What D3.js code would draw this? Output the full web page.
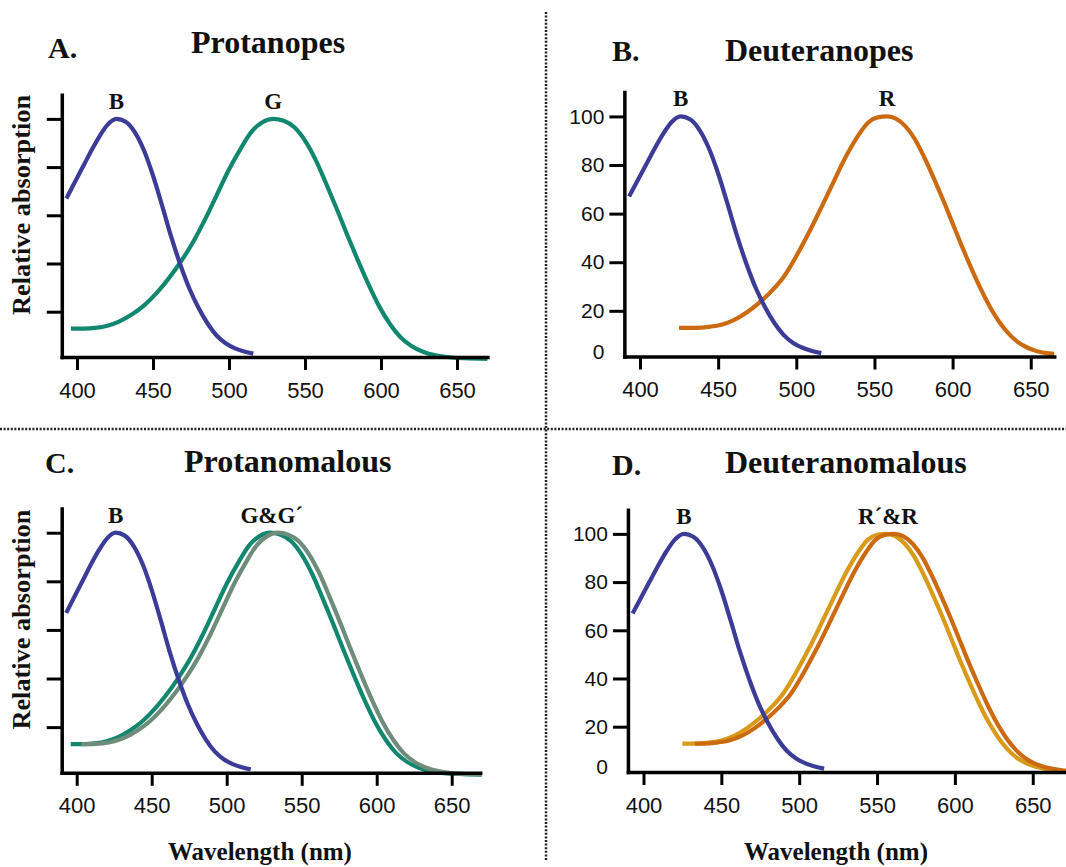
<!DOCTYPE html>
<html><head><meta charset="utf-8">
<script src="https://cdn.jsdelivr.net/npm/d3@7"></script>
<style>body{margin:0;background:#fff}svg{display:block}</style>
</head><body><svg id="chart" width="1066" height="867"></svg>
<script>
// ---------- data ----------
const xTicks = [400, 450, 500, 550, 600, 650];
const yTicksLabeled = [0, 20, 40, 60, 80, 100];
const yTicksPlain = [20, 40, 60, 80, 100];

const blueWl  = [393,400,405,410,415,420,426,432,438,444,450,456,462,468,474,480,486,492,498,504,510,516];
const blueAbs = [67,75.5,81.5,87.5,93,97.5,100,98.8,94.5,87,76.5,64,51,39.5,29.5,21.5,15,10,6.8,4.8,3.5,2.6];

const greenWl  = [396,405,412,420,428,436,444,452,460,468,476,484,492,500,508,515,522,529,536,543,550,557,564,571,578,585,592,599,606,613,620,628,636,645,655,670];
const greenAbs = [13,13,13.3,14.2,16,18.8,22.5,27.5,33.5,40.5,48.5,58,68.5,79,88,94.8,98.6,100,99.2,96.5,91,83,73,62.5,51.5,41,31,22,14.8,9.3,5.8,3.3,1.9,1.1,0.7,0.4];

const greenPrimeWl  = [403,410,417,425,433,441,449,457,465,473,481,489,497,505,513,520,527,534,541,548,555,562,569,576,583,590,597,604,611,618,625,633,641,650,660,670];
const greenPrimeAbs = [13,13,13.3,14.2,16,18.8,22.5,27.5,33.5,40.5,48.5,58,68.5,79,88,94.8,98.6,100,99.2,96.5,91,83,73,62.5,51.5,41,31,22,14.8,9.3,5.8,3.3,1.9,1.1,0.7,0.5];

const redWl  = [425,435,445,452,460,468,476,484,492,500,508,516,524,532,540,546,552,558,564,570,576,582,588,594,600,606,612,618,624,630,636,642,648,654,660,665];
const redAbs = [13,13,13.5,14.3,16.2,19.2,23.2,28,34,42.5,52.1,62.5,73.3,83.8,92.5,97.5,99.6,100,99,95.8,90.5,83,74.5,65.5,56,46.5,37.5,29,21.5,15.3,10.5,7,4.8,3.4,2.6,2.3];

const redPrimeWl  = [425,433,443,450,458,466,474,482,490,498,506,514,522,530,538,544,550,556,562,568,574,580,586,592,598,604,610,616,622,628,634,640,646,652,658,664,672];
const redPrimeAbs = [13,13,13.5,14.3,16.2,19.2,23.2,28,34,42.5,52.1,62.5,73.3,83.8,92.5,97.5,99.6,100,99,95.8,90.5,83,74.5,65.5,56,46.5,37.5,29,21.5,15.3,10.5,7,4.8,3.4,2.5,1.9,1.4];

const redDWl  = [433,438,448,455,463,471,479,487,495,503,511,519,527,535,543,549,555,561,567,573,579,585,591,597,603,609,615,621,627,633,639,645,651,657,663,669,676];
const redDAbs = [13,13,13.5,14.3,16.2,19.2,23.2,28,34,42.5,52.1,62.5,73.3,83.8,92.5,97.5,99.6,100,99,95.8,90.5,83,74.5,65.5,56,46.5,37.5,29,21.5,15.3,10.5,7,4.8,3.4,2.5,1.9,1.5];

// ---------- styles ----------
const COL = {blue:'#3b3b98', green:'#12876f', greenP:'#6f8b79', red:'#cc6a12', redP:'#d89a18'};
const SERIF = "'Liberation Serif','Times New Roman',serif";
const SANS = "'Liberation Sans',Arial,sans-serif";

const zip = (w, a) => w.map((d, i) => ({wl: d, v: a[i]}));

const panels = [
  {letter:'A.', title:'Protanopes', lx:48, ly:58, tx:191, ty:53,
   px400:77, k:1.52, xMax:670, axisY:357, u:2.41, yLabels:false, ylab:true, xlab:false,
   curves:[{d:zip(greenWl,greenAbs), c:COL.green},{d:zip(blueWl,blueAbs), c:COL.blue}],
   labels:[{t:'B', wl:426},{t:'G', wl:529}]},
  {letter:'B.', title:'Deuteranopes', lx:612, ly:61, tx:725, ty:61,
   px400:640, k:1.563, xMax:665, axisY:356.5, u:2.43, yLabels:true, ylab:false, xlab:false,
   curves:[{d:zip(redWl,redAbs), c:COL.red},{d:zip(blueWl,blueAbs), c:COL.blue}],
   labels:[{t:'B', wl:426},{t:'R', wl:558}]},
  {letter:'C.', title:'Protanomalous', lx:45, ly:473, tx:184, ty:472,
   px400:76.7, k:1.5, xMax:669, axisY:772.8, u:2.43, yLabels:false, ylab:true, xlab:true,
   curves:[{d:zip(greenWl,greenAbs), c:COL.green},{d:zip(greenPrimeWl,greenPrimeAbs), c:COL.greenP},{d:zip(blueWl,blueAbs), c:COL.blue}],
   labels:[{t:'B', wl:426},{t:'G&G\u00B4', wl:530}]},
  {letter:'D.', title:'Deuteranomalous', lx:612, ly:475, tx:725, ty:473,
   px400:643.5, k:1.557, xMax:676, axisY:772, u:2.41, yLabels:true, ylab:false, xlab:true,
   curves:[{d:zip(redPrimeWl,redPrimeAbs), c:COL.redP},{d:zip(redDWl,redDAbs), c:COL.red},{d:zip(blueWl,blueAbs), c:COL.blue}],
   labels:[{t:'B', wl:426},{t:'R\u00B4&R', wl:557}]}
];

const svg = d3.select('#chart');
svg.append('rect').attr('width',1066).attr('height',867).attr('fill','#fff');

// separators
svg.append('line').attr('x1',0).attr('x2',1066).attr('y1',429).attr('y2',429)
  .attr('stroke','#222').attr('stroke-width',2.5).attr('stroke-dasharray','2,1.6');
svg.append('line').attr('x1',546).attr('x2',546).attr('y1',12).attr('y2',860)
  .attr('stroke','#222').attr('stroke-width',2.5).attr('stroke-dasharray','2,1.6');

const yFloor = 1.2, yTop = 110;

panels.forEach(p => {
  const x = d3.scaleLinear().domain([390, p.xMax])
    .range([p.px400 - 10*p.k, p.px400 + (p.xMax-400)*p.k]);
  const y = d3.scaleLinear().domain([yFloor, yTop])
    .range([p.axisY, p.axisY - (yTop-yFloor)*p.u]);
  const g = svg.append('g');

  // curves
  const line = d3.line().x(d => x(d.wl)).y(d => y(d.v)).curve(d3.curveMonotoneX);
  p.curves.forEach(c => {
    g.append('path').datum(c.d).attr('d', line).attr('fill','none')
      .attr('stroke', c.c).attr('stroke-width', 4.2).attr('stroke-linecap','butt')
      .attr('stroke-linejoin','round');
  });

  // x axis
  const xa = g.append('g').attr('transform', `translate(0,${p.axisY})`)
    .call(d3.axisBottom(x).tickValues(xTicks).tickSize(13).tickPadding(12).tickSizeOuter(0));
  // y axis
  const yAxis = d3.axisLeft(y).tickSize(15).tickPadding(5).tickSizeOuter(0)
    .tickValues(p.yLabels ? yTicksLabeled : yTicksPlain);
  if (!p.yLabels) yAxis.tickFormat(() => '');
  const ya = g.append('g').attr('transform', `translate(${x(390)},0)`).call(yAxis);

  [xa, ya].forEach(a => {
    a.select('.domain').attr('stroke','#000').attr('stroke-width',3.5).attr('stroke-linecap','square');
    a.selectAll('.tick line').attr('stroke','#000').attr('stroke-width',3);
    a.selectAll('.tick text').attr('fill','#111').style('font-family', SANS);
  });
  xa.selectAll('.tick text').style('font-size','22px');
  ya.selectAll('.tick text').style('font-size','21px');
  ya.selectAll('.tick').filter(d => d === 0).each(function(){
    d3.select(this).select('line').remove();
    d3.select(this).select('text').attr('transform','translate(0,-8)');
  });

  // curve labels
  p.labels.forEach(l => {
    g.append('text').attr('x', x(l.wl)).attr('y', y(100) - 10)
      .attr('text-anchor','middle').style('font-family', SERIF).style('font-weight','bold')
      .style('font-size','23px').attr('fill','#111').text(l.t);
  });

  // panel letter + title
  g.append('text').attr('x', p.lx).attr('y', p.ly).style('font-family', SERIF)
    .style('font-weight','bold').style('font-size','30px').attr('fill','#111').text(p.letter);
  g.append('text').attr('x', p.tx).attr('y', p.ty).style('font-family', SERIF)
    .style('font-weight','bold').style('font-size','32px').attr('fill','#111').text(p.title);

  if (p.ylab) {
    const cy = (y(yTop) + y(yFloor)) / 2 - 21;
    g.append('text').attr('transform', `translate(30,${cy}) rotate(-90)`)
      .attr('text-anchor','middle').style('font-family', SERIF).style('font-weight','bold')
      .style('font-size','25px').attr('fill','#111')
      .attr('textLength', 220).attr('lengthAdjust','spacingAndGlyphs')
      .text('Relative absorption');
  }
  if (p.xlab) {
    const cx = (x(390) + Math.min(x(p.xMax), 1066)) / 2 - 11;
    g.append('text').attr('x', cx).attr('y', 860).attr('text-anchor','middle')
      .style('font-family', SERIF).style('font-weight','bold').style('font-size','25px')
      .attr('fill','#111').text('Wavelength (nm)');
  }
});
</script>
</body></html>
